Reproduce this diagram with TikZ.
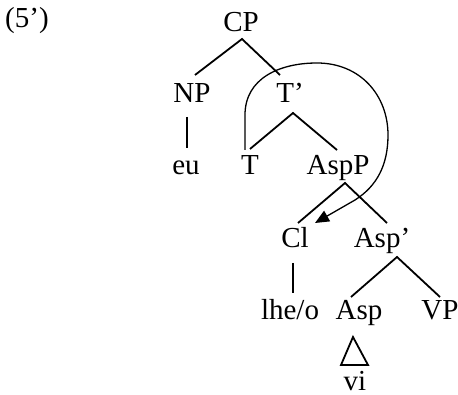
\documentclass[tikz,border=0pt]{standalone}
\usepackage{fontspec}
\setmainfont{Liberation Serif}
\usetikzlibrary{arrows.meta}
\begin{document}
\begin{tikzpicture}[x=1pt,y=-1pt,
  lbl/.style={anchor=base,inner sep=0pt,font=\fontsize{29}{31}\selectfont},
  edge/.style={line width=1.8pt},
  move/.style={line width=1.3pt,-{Triangle[length=14pt,width=12pt]}}]
\useasboundingbox (0,0) rectangle (458,395);
\node[lbl,anchor=base west] (ex) at (5,28) {(5’)};
\node[lbl] (CP) at (241,32) {CP};
\node[lbl] (NP) at (192,103) {NP};
\node[lbl] (Tb) at (290,103) {T’};
\node[lbl] (eu) at (186,175) {eu};
\node[lbl] (T) at (250,175) {T};
\node[lbl] (AspP) at (338,175) {AspP};
\node[lbl] (Cl) at (295,248) {Cl};
\node[lbl] (Aspb) at (382,248) {Asp’};
\node[lbl] (lheo) at (290,320) {lhe/o};
\node[lbl] (Asp) at (359,320) {Asp};
\node[lbl] (VP) at (440,320) {VP};
\node[lbl] (vi) at (355,391) {vi};
% tree edges
\draw[edge] ([shift={(3,-28)}]NP.base) -- ([shift={(1,7)}]CP.base) -- ([shift={(-10,-28)}]Tb.base);
\draw[edge] ([shift={(-5,14)}]NP.base) -- ([shift={(1,-27)}]eu.base);
\draw[edge] ([shift={(0,-26)}]T.base) -- ([shift={(3,10)}]Tb.base) -- ([shift={(-1,-25)}]AspP.base);
\draw[edge] ([shift={(-40,48)}]AspP.base) -- ([shift={(7,8)}]AspP.base) -- ([shift={(5,-25)}]Aspb.base);
\draw[edge] ([shift={(-2,15)}]Cl.base) -- ([shift={(3,-27)}]lheo.base);
\draw[edge] ([shift={(-8,-23)}]Asp.base) -- ([shift={(15,9)}]Aspb.base) -- ([shift={(0,-23)}]VP.base);
\draw[edge] ([shift={(-6,17)}]Asp.base) -- ([shift={(-18,45)}]Asp.base) -- ([shift={(9,45)}]Asp.base) -- cycle;
% movement arrow
\draw[move] ([shift={(-5,-25)}]T.base) -- (245,115)
  .. controls (245,78) and (280,63) .. (317,63)
  .. controls (360,63) and (388,95) .. (388,135)
  .. controls (388,165) and (377,186) .. (355,200)
  -- ([shift={(20,-25)}]Cl.base);
\end{tikzpicture}
\end{document}
